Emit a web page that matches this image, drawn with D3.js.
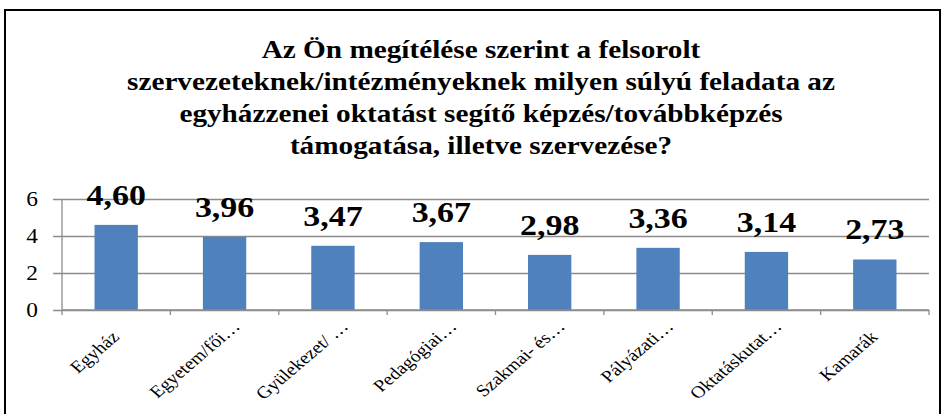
<!DOCTYPE html>
<html>
<head>
<meta charset="utf-8">
<script src="https://cdn.jsdelivr.net/npm/d3@7"></script>
<style>
  body { margin: 0; background: #fff; }
</style>
</head>
<body>
<script>
// Chart data
var categories = ["Egyház", "Egyetem/fői…", "Gyülekezet/ …", "Pedagógiai…", "Szakmai- és…", "Pályázati…", "Oktatáskutat…", "Kamarák"];
var values = [4.60, 3.96, 3.47, 3.67, 2.98, 3.36, 3.14, 2.73];
var yTicks = [0, 2, 4, 6];
var titleLines = [
  "Az Ön megítélése szerint a felsorolt",
  "szervezeteknek/intézményeknek milyen súlyú feladata az",
  "egyházzenei oktatást segítő képzés/továbbképzés",
  "támogatása, illetve szervezése?"
];

var svgWidth = 946;
var svgHeight = 414;
var serif = '"Liberation Serif", "Times New Roman", serif';
// the original picture is a little wider than tall, text is stretched to match
var stretch = 1.17;

var margin = { top: 199, right: 17, bottom: 104, left: 62 };
var chartWidth = svgWidth - margin.left - margin.right;
var chartHeight = svgHeight - margin.top - margin.bottom;

var svg = d3.select("body")
  .append("svg")
  .attr("width", svgWidth)
  .attr("height", svgHeight)
  .style("font-family", serif);

// Outer frame
svg.append("rect")
  .attr("x", 5)
  .attr("y", 10)
  .attr("width", 935)
  .attr("height", 420)
  .attr("fill", "none")
  .attr("stroke", "#000")
  .attr("stroke-width", 2);

// Title
svg.append("g")
  .selectAll("text")
  .data(titleLines)
  .enter()
  .append("text")
  .attr("transform", (d, i) => `translate(481, ${58 + i * 32}) scale(${stretch}, 1)`)
  .attr("text-anchor", "middle")
  .attr("font-size", 25)
  .attr("font-weight", "bold")
  .style("font-family", serif)
  .text(d => d);

var chartGroup = svg.append("g")
  .attr("transform", `translate(${margin.left}, ${margin.top})`);

var xScale = d3.scaleBand()
  .domain(categories)
  .range([0, chartWidth])
  .paddingInner(0.6)
  .paddingOuter(0.3);

var yScale = d3.scaleLinear()
  .domain([0, 6])
  .range([chartHeight, 0]);

// Gridlines + y axis
var leftAxis = d3.axisLeft(yScale)
  .tickValues(yTicks)
  .tickSize(-chartWidth)
  .tickFormat("");

var gridGroup = chartGroup.append("g").call(leftAxis);
gridGroup.select(".domain").remove();
gridGroup.selectAll(".tick line")
  .attr("stroke", "#8c8c8c")
  .attr("stroke-width", 1.3)
  .attr("x1", -9);

chartGroup.append("line")
  .attr("x1", 0).attr("x2", 0)
  .attr("y1", 0).attr("y2", chartHeight + 5)
  .attr("stroke", "#8c8c8c")
  .attr("stroke-width", 1.3);

chartGroup.append("g")
  .selectAll("text")
  .data(yTicks)
  .enter()
  .append("text")
  .attr("transform", d => `translate(-24, ${yScale(d) + 7}) scale(${stretch}, 1)`)
  .attr("text-anchor", "end")
  .attr("font-size", 20)
  .style("font-family", serif)
  .text(d => d);

// Bars
chartGroup.selectAll(".bar")
  .data(values)
  .enter()
  .append("rect")
  .attr("class", "bar")
  .attr("x", (d, i) => xScale(categories[i]))
  .attr("y", d => yScale(d))
  .attr("width", xScale.bandwidth())
  .attr("height", d => chartHeight - yScale(d))
  .attr("fill", "#4f81bd");

// X axis baseline and ticks
var step = xScale.step();
chartGroup.append("line")
  .attr("x1", 0).attr("x2", chartWidth)
  .attr("y1", chartHeight).attr("y2", chartHeight)
  .attr("stroke", "#8c8c8c")
  .attr("stroke-width", 1.3);

chartGroup.append("g")
  .selectAll("line")
  .data(categories)
  .enter()
  .append("line")
  .attr("x1", d => xScale(d) + xScale.bandwidth() / 2 + step / 2)
  .attr("x2", d => xScale(d) + xScale.bandwidth() / 2 + step / 2)
  .attr("y1", chartHeight)
  .attr("y2", chartHeight + 5)
  .attr("stroke", "#8c8c8c")
  .attr("stroke-width", 1.3);

// Value labels
chartGroup.selectAll(".value")
  .data(values)
  .enter()
  .append("text")
  .attr("class", "value")
  .attr("transform", (d, i) => {
    var cx = xScale(categories[i]) + xScale.bandwidth() / 2;
    return `translate(${cx}, ${yScale(d) - 20}) scale(${stretch}, 1)`;
  })
  .attr("text-anchor", "middle")
  .attr("font-size", 29)
  .attr("font-weight", "bold")
  .style("font-family", serif)
  .text(d => d.toFixed(2).replace(".", ","));

// Category labels (truncated ones sit a bit further along the slant)
chartGroup.selectAll(".cat")
  .data(categories)
  .enter()
  .append("text")
  .attr("class", "cat")
  .attr("text-anchor", "end")
  .attr("font-size", 17)
  .attr("dx", d => d.endsWith("…") ? 15 : 0)
  .style("font-family", serif)
  .attr("transform", d => {
    var cx = xScale(d) + xScale.bandwidth() / 2 + 4;
    return `translate(${cx}, ${chartHeight + 28}) scale(${stretch}, 1) rotate(-45)`;
  })
  .text(d => d);
</script>
</body>
</html>
